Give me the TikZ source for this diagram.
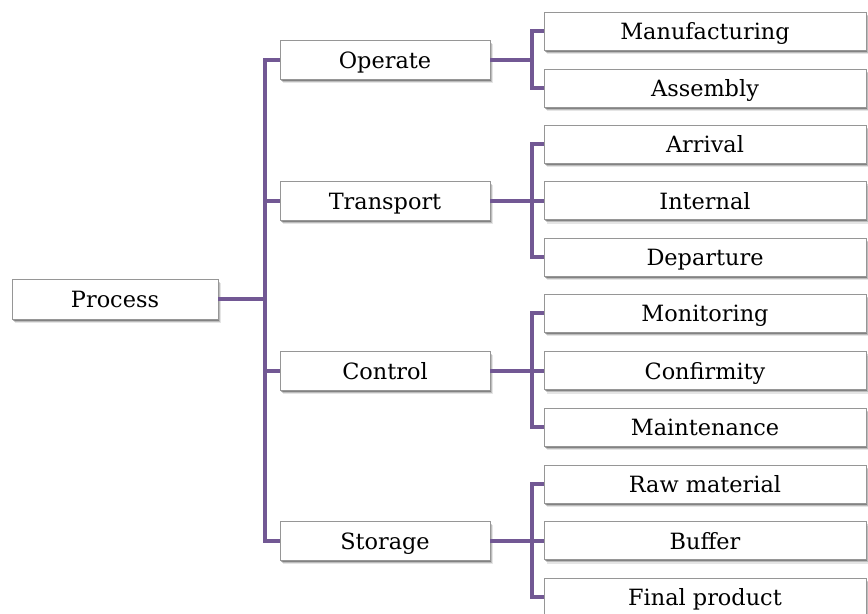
\documentclass[tikz,border=0pt]{standalone}
\usepackage{fontspec}
\setmainfont{DejaVu Serif}
\usetikzlibrary{shadows}
\definecolor{linkpurple}{RGB}{114,88,148}
\definecolor{boxgray}{RGB}{150,150,150}
\tikzset{
  box/.style={draw=boxgray, line width=0.6pt, fill=white, inner sep=0pt,
    font=\fontsize{16.8}{20}\selectfont, anchor=center,
    text height=16pt, text depth=2.8pt,
    drop shadow={shadow xshift=2pt, shadow yshift=-3.2pt, fill=black, opacity=0.10},
    drop shadow={shadow xshift=1.4pt, shadow yshift=-2.2pt, fill=black, opacity=0.18},
    drop shadow={shadow xshift=0.8pt, shadow yshift=-1.2pt, fill=black, opacity=0.30}},
  rootbox/.style={box, minimum width=154.5pt, minimum height=30pt},
  midbox/.style={box, minimum width=157.5pt, minimum height=29.25pt},
  leafbox/.style={box, minimum width=241.5pt, minimum height=28.5pt},
  conn/.style={draw=linkpurple, line width=3pt}
}
\begin{document}
\begin{tikzpicture}[x=0.75pt, y=-0.75pt]
\useasboundingbox (0,0) rectangle (868,614);
% root
\node[rootbox] (pr) at (115,299) {Process};
% level 1
\node[midbox] (op) at (385,59.5) {Operate};
\node[midbox] (tr) at (385,200.5) {Transport};
\node[midbox] (co) at (385,370.5) {Control};
\node[midbox] (st) at (385,540.5) {Storage};
% level 2
\node[leafbox] (ma) at (705,31) {Manufacturing};
\node[leafbox] (as) at (705,88) {Assembly};
\node[leafbox] (ar) at (705,144) {Arrival};
\node[leafbox] (in) at (705,200.5) {Internal};
\node[leafbox] (de) at (705,257) {Departure};
\node[leafbox] (mo) at (705,313) {Monitoring};
\node[leafbox] (cf) at (705,370.5) {Confirmity};
\node[leafbox] (mt) at (705,427) {Maintenance};
\node[leafbox] (rm) at (705,484) {Raw material};
\node[leafbox] (bu) at (705,540.5) {Buffer};
\node[leafbox] (fp) at (705,597) {Final product};
% trunk
\draw[conn] (pr.east) -- ++(47,0);
\draw[conn] (op.west) -- ++(-15,0) |- (st.west);
\draw[conn] (tr.west) -- ++(-15,0);
\draw[conn] (co.west) -- ++(-15,0);
% operate
\draw[conn] (op.east) -- ++(42,0);
\draw[conn] (ma.west) -- ++(-12,0) |- (as.west);
% transport
\draw[conn] (tr.east) -- ++(42,0);
\draw[conn] (ar.west) -- ++(-12,0) |- (de.west);
\draw[conn] (in.west) -- ++(-12,0);
% control
\draw[conn] (co.east) -- ++(42,0);
\draw[conn] (mo.west) -- ++(-12,0) |- (mt.west);
\draw[conn] (cf.west) -- ++(-12,0);
% storage
\draw[conn] (st.east) -- ++(42,0);
\draw[conn] (rm.west) -- ++(-12,0) |- (fp.west);
\draw[conn] (bu.west) -- ++(-12,0);
\end{tikzpicture}
\end{document}
